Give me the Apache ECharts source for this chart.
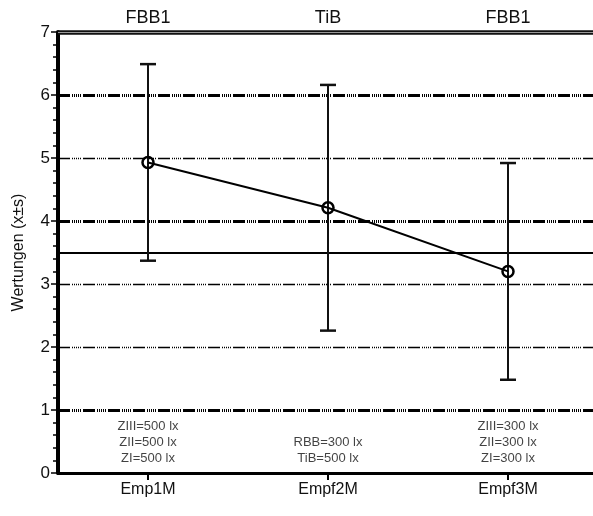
<!DOCTYPE html>
<html><head><meta charset="utf-8">
<script src="https://cdn.jsdelivr.net/npm/echarts@6/dist/echarts.min.js"></script>
<style>html,body{margin:0;padding:0;background:#fff}#c{width:593px;height:516px}</style>
</head><body><div id="c"></div>
<script>
var categories = ['Emp1M', 'Empf2M', 'Empf3M'];
var topLabels = ['FBB1', 'TiB', 'FBB1'];
var means = [4.93, 4.21, 3.20];
var sds = [1.56, 1.95, 1.72];
var notes = [
  ['ZIII=500 lx', 'ZII=500 lx', 'ZI=500 lx'],
  ['RBB=300 lx', 'TiB=500 lx'],
  ['ZIII=300 lx', 'ZII=300 lx', 'ZI=300 lx']
];
var yTicks = [0, 1, 2, 3, 4, 5, 6, 7];
var boldGrid = [1, 4, 6];
var thinGrid = [2, 3, 5];
var refLine = 3.5;

var FONT = 'Liberation Sans, Arial, sans-serif';
var dashPat = [12, 2, 1, 1, 1, 1, 1, 1, 1, 1, 1, 2];
var noteLevel = 0.1;

var chart = echarts.init(document.getElementById('c'));

var markData = [];
boldGrid.forEach(function (v) {
  markData.push({ yAxis: v, lineStyle: { color: '#000', width: 3, type: dashPat } });
});
thinGrid.forEach(function (v) {
  markData.push({ yAxis: v, lineStyle: { color: '#000', width: 1.3, type: dashPat } });
});
markData.push({ yAxis: refLine, lineStyle: { color: '#000', width: 2, type: 'solid' } });
var topV = yTicks[yTicks.length - 1];
markData.push({ yAxis: topV, lineStyle: { color: '#111', width: 4.5, type: 'solid' } });
markData.push({ yAxis: topV, lineStyle: { color: '#999', width: 1, type: 'solid' } });

var errData = categories.map(function (c, i) { return [i, means[i] - sds[i], means[i] + sds[i]]; });

chart.setOption({
  animation: false,
  grid: { left: 58, top: 32, bottom: 43, width: 540, containLabel: false, outerBoundsMode: 'none' },
  xAxis: [{
    type: 'category', data: categories, position: 'bottom',
    axisLine: { lineStyle: { color: '#000', width: 3 } },
    axisTick: { show: true, alignWithLabel: true, length: 7, lineStyle: { color: '#000', width: 2 } },
    axisLabel: { color: '#111', fontFamily: FONT, fontSize: 16, margin: 9 },
    splitLine: { show: false }
  }, {
    type: 'category', data: topLabels, position: 'top',
    axisLine: { show: false }, axisTick: { show: false },
    axisLabel: { color: '#111', fontFamily: FONT, fontSize: 18, margin: 5 }
  }],
  yAxis: {
    type: 'value', min: 0, max: 7, interval: 1,
    name: 'Wertungen (x\u00b1s)', nameLocation: 'middle', nameGap: 31,
    nameTextStyle: { color: '#111', fontFamily: FONT, fontSize: 16 },
    axisLine: { show: true, lineStyle: { color: '#000', width: 4 } },
    axisTick: { show: true, length: 7, lineStyle: { color: '#000', width: 1.5 } },
    minorTick: { show: true, splitNumber: 5, length: 5, lineStyle: { color: '#000', width: 1.5 } },
    axisLabel: { color: '#111', fontFamily: FONT, fontSize: 17, margin: 8 },
    splitLine: { show: false }
  },
  series: [{
    type: 'custom', xAxisIndex: 0,
    data: errData,
    renderItem: function (params, api) {
      var x = api.value(0);
      var lo = api.coord([x, api.value(1)]);
      var hi = api.coord([x, api.value(2)]);
      var cw = 8;
      var st = { stroke: '#111', lineWidth: 2 };
      return { type: 'group', children: [
        { type: 'line', shape: { x1: lo[0], y1: lo[1], x2: hi[0], y2: hi[1] }, style: st },
        { type: 'line', shape: { x1: lo[0] - cw, y1: lo[1], x2: lo[0] + cw, y2: lo[1] }, style: { stroke: '#111', lineWidth: 2.5 } },
        { type: 'line', shape: { x1: hi[0] - cw, y1: hi[1], x2: hi[0] + cw, y2: hi[1] }, style: { stroke: '#111', lineWidth: 2.5 } }
      ] };
    },
    z: 3
  }, {
    type: 'line', xAxisIndex: 0, data: means,
    symbol: 'circle', symbolSize: 11,
    itemStyle: { color: 'rgba(255,255,255,0)', borderColor: '#000', borderWidth: 2.5 },
    lineStyle: { color: '#000', width: 2 },
    z: 5,
    markLine: { silent: true, symbol: 'none', label: { show: false }, data: markData, z: 1 }
  }, {
    type: 'scatter', xAxisIndex: 0, symbolSize: 0,
    data: notes.map(function (n, i) { return { value: [i, noteLevel], label: { formatter: n.join('\n') } }; }),
    label: { show: true, position: 'top', distance: 0, color: '#111', fontFamily: FONT, fontSize: 13, lineHeight: 16, align: 'center' },
    z: 6
  }]
});
</script></body></html>
